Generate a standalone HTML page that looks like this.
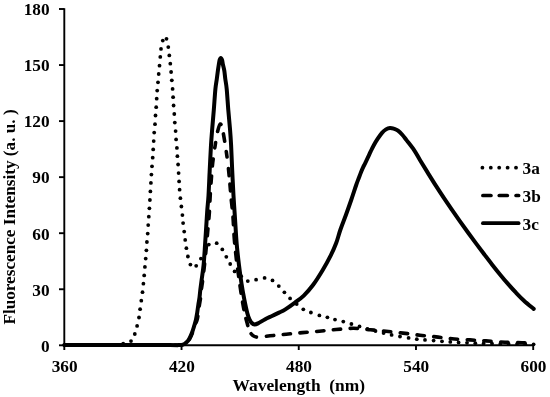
<!DOCTYPE html>
<html><head><meta charset="utf-8"><style>
html,body{margin:0;padding:0;background:#fff;}
body{width:550px;height:397px;overflow:hidden;}
svg{display:block;filter:grayscale(1);}
text{font-family:"Liberation Serif",serif;font-weight:bold;fill:#000;}
</style></head><body>
<svg width="550" height="397" viewBox="0 0 550 397">
<rect width="550" height="397" fill="#fff"/>
<g stroke="#000" stroke-width="1.9" fill="none" stroke-linecap="butt">
<line x1="64.3" y1="8.2" x2="64.3" y2="346.2"/>
<line x1="63.4" y1="345.3" x2="534.1" y2="345.3"/>
<line x1="59" y1="345.30" x2="64.3" y2="345.30"/><line x1="59" y1="289.25" x2="64.3" y2="289.25"/><line x1="59" y1="233.20" x2="64.3" y2="233.20"/><line x1="59" y1="177.15" x2="64.3" y2="177.15"/><line x1="59" y1="121.10" x2="64.3" y2="121.10"/><line x1="59" y1="65.05" x2="64.3" y2="65.05"/><line x1="59" y1="9.00" x2="64.3" y2="9.00"/>
<line x1="64.30" y1="345.3" x2="64.30" y2="350"/><line x1="181.53" y1="345.3" x2="181.53" y2="350"/><line x1="298.75" y1="345.3" x2="298.75" y2="350"/><line x1="415.98" y1="345.3" x2="415.98" y2="350"/><line x1="533.20" y1="345.3" x2="533.20" y2="350"/>
</g>
<g font-size="16" text-anchor="end"><text transform="translate(49.6,351.60) scale(1.08,1)">0</text><text transform="translate(49.6,295.55) scale(1.08,1)">30</text><text transform="translate(49.6,239.50) scale(1.08,1)">60</text><text transform="translate(49.6,183.45) scale(1.08,1)">90</text><text transform="translate(49.6,127.40) scale(1.08,1)">120</text><text transform="translate(49.6,71.35) scale(1.08,1)">150</text><text transform="translate(49.6,15.30) scale(1.08,1)">180</text></g>
<g font-size="16" text-anchor="middle"><text transform="translate(64.60,372.3) scale(1.08,1)">360</text><text transform="translate(181.83,372.3) scale(1.08,1)">420</text><text transform="translate(299.05,372.3) scale(1.08,1)">480</text><text transform="translate(416.28,372.3) scale(1.08,1)">540</text><text transform="translate(533.50,372.3) scale(1.08,1)">600</text></g>
<text transform="translate(298.8,391.2) scale(1.025,1)" font-size="17" text-anchor="middle" xml:space="preserve">Wavelength  (nm)</text>
<text transform="translate(15.4,217) rotate(-90) scale(1.06,1)" font-size="16.2" text-anchor="middle" xml:space="preserve">Fluorescence Intensity (a. u. )</text>
<path d="M64.30,345.10 C73.58,345.10 102.38,345.10 120.00,345.10 C137.62,345.10 160.17,345.10 170.00,345.10 C179.83,345.10 176.83,345.18 179.00,345.10 C181.17,345.02 181.78,345.05 183.00,344.60 C184.22,344.15 185.30,343.30 186.30,342.40 C187.30,341.50 188.08,340.72 189.00,339.20 C189.92,337.68 190.92,335.57 191.80,333.30 C192.68,331.03 193.60,327.90 194.30,325.60 C195.00,323.30 195.52,321.65 196.00,319.50 C196.48,317.35 196.82,315.12 197.20,312.70 C197.58,310.28 197.92,307.52 198.30,305.00 C198.68,302.48 199.17,300.10 199.50,297.60 C199.83,295.10 199.95,292.93 200.30,290.00 C200.65,287.07 201.05,284.17 201.60,280.00 C202.15,275.83 203.02,271.00 203.60,265.00 C204.18,259.00 204.67,250.33 205.10,244.00 C205.53,237.67 205.83,232.67 206.20,227.00 C206.57,221.33 206.92,215.23 207.30,210.00 C207.68,204.77 208.10,202.20 208.50,195.60 C208.90,189.00 209.28,178.80 209.70,170.40 C210.12,162.00 210.58,152.10 211.00,145.20 C211.42,138.30 211.73,134.87 212.20,129.00 C212.67,123.13 213.27,116.67 213.80,110.00 C214.33,103.33 214.90,94.17 215.40,89.00 C215.90,83.83 216.38,82.07 216.80,79.00 C217.22,75.93 217.57,73.02 217.90,70.60 C218.23,68.18 218.52,66.23 218.80,64.50 C219.08,62.77 219.27,61.28 219.60,60.20 C219.93,59.12 220.38,58.00 220.80,58.00 C221.22,58.00 221.75,59.12 222.10,60.20 C222.45,61.28 222.53,62.77 222.90,64.50 C223.27,66.23 223.90,68.18 224.30,70.60 C224.70,73.02 224.90,75.93 225.30,79.00 C225.70,82.07 226.20,83.83 226.70,89.00 C227.20,94.17 227.75,103.33 228.30,110.00 C228.85,116.67 229.53,123.13 230.00,129.00 C230.47,134.87 230.73,138.30 231.10,145.20 C231.47,152.10 231.80,162.00 232.20,170.40 C232.60,178.80 233.03,187.62 233.50,195.60 C233.97,203.58 234.47,210.23 235.00,218.30 C235.53,226.37 236.03,236.18 236.70,244.00 C237.37,251.82 238.20,258.62 239.00,265.20 C239.80,271.78 240.62,277.80 241.50,283.50 C242.38,289.20 243.32,294.40 244.30,299.40 C245.28,304.40 246.52,310.13 247.40,313.50 C248.28,316.87 248.87,318.02 249.60,319.60 C250.33,321.18 250.97,322.20 251.80,323.00 C252.63,323.80 253.57,324.33 254.60,324.40 C255.63,324.47 256.23,324.27 258.00,323.40 C259.77,322.53 262.87,320.43 265.20,319.20 C267.53,317.97 269.70,317.10 272.00,316.00 C274.30,314.90 276.83,313.67 279.00,312.60 C281.17,311.53 282.33,311.27 285.00,309.60 C287.67,307.93 291.87,304.93 295.00,302.60 C298.13,300.27 300.83,298.48 303.80,295.60 C306.77,292.72 309.67,289.53 312.80,285.30 C315.93,281.07 319.58,275.23 322.60,270.20 C325.62,265.17 328.63,259.63 330.90,255.10 C333.17,250.57 334.63,247.18 336.20,243.00 C337.77,238.82 338.68,234.67 340.30,230.00 C341.92,225.33 344.08,220.00 345.90,215.00 C347.72,210.00 349.48,205.00 351.20,200.00 C352.92,195.00 354.93,188.67 356.20,185.00 C357.47,181.33 357.98,180.17 358.80,178.00 C359.62,175.83 360.37,173.80 361.10,172.00 C361.83,170.20 362.55,168.60 363.20,167.20 C363.85,165.80 364.23,165.18 365.00,163.60 C365.77,162.02 366.85,159.73 367.80,157.70 C368.75,155.67 369.70,153.48 370.70,151.40 C371.70,149.32 372.65,147.28 373.80,145.20 C374.95,143.12 376.23,140.97 377.60,138.90 C378.97,136.83 380.60,134.38 382.00,132.80 C383.40,131.22 384.67,130.20 386.00,129.40 C387.33,128.60 388.67,128.10 390.00,128.00 C391.33,127.90 392.67,128.37 394.00,128.80 C395.33,129.23 396.58,129.57 398.00,130.60 C399.42,131.63 401.08,133.42 402.50,135.00 C403.92,136.58 404.57,137.58 406.50,140.10 C408.43,142.62 411.83,146.75 414.10,150.10 C416.37,153.45 417.78,156.37 420.10,160.20 C422.42,164.03 425.35,168.82 428.00,173.10 C430.65,177.38 433.33,181.73 436.00,185.90 C438.67,190.07 441.33,194.12 444.00,198.10 C446.67,202.08 449.33,205.93 452.00,209.80 C454.67,213.67 457.33,217.52 460.00,221.30 C462.67,225.08 465.33,228.82 468.00,232.50 C470.67,236.18 473.33,239.82 476.00,243.40 C478.67,246.98 481.33,250.50 484.00,254.00 C486.67,257.50 489.33,261.00 492.00,264.40 C494.67,267.80 497.33,271.15 500.00,274.40 C502.67,277.65 505.33,280.85 508.00,283.90 C510.67,286.95 513.33,289.90 516.00,292.70 C518.67,295.50 521.05,298.00 524.00,300.70 C526.95,303.40 532.08,307.53 533.70,308.90" stroke="#000" stroke-width="4" fill="none" stroke-linejoin="round" stroke-linecap="round"/>
<path id="b3" d="M64.30,345.10 C73.58,345.10 101.55,345.10 120.00,345.10 C138.45,345.10 164.92,345.12 175.00,345.10 C185.08,345.08 179.03,345.12 180.50,345.00 C181.97,344.88 182.75,344.85 183.80,344.40 C184.85,343.95 185.83,343.20 186.80,342.30 C187.77,341.40 188.70,340.50 189.60,339.00 C190.50,337.50 191.35,335.50 192.20,333.30 C193.05,331.10 193.87,328.10 194.70,325.80 C195.53,323.50 196.60,321.68 197.20,319.50 C197.80,317.32 197.93,315.12 198.30,312.70 C198.67,310.28 199.02,307.52 199.40,305.00 C199.78,302.48 200.28,300.10 200.60,297.60 C200.92,295.10 200.95,292.93 201.30,290.00 C201.65,287.07 202.15,284.33 202.70,280.00 C203.25,275.67 203.97,269.83 204.60,264.00 C205.23,258.17 205.93,251.00 206.50,245.00 C207.07,239.00 207.53,233.28 208.00,228.00 C208.47,222.72 208.93,218.70 209.30,213.30 C209.67,207.90 209.85,201.48 210.20,195.60 C210.55,189.72 210.98,183.45 211.40,178.00 C211.82,172.55 212.07,168.37 212.70,162.90 C213.33,157.43 214.40,150.35 215.20,145.20 C216.00,140.05 216.65,135.53 217.50,132.00 C218.35,128.47 219.45,124.33 220.30,124.00 C221.15,123.67 221.77,126.47 222.60,130.00 C223.43,133.53 224.43,139.72 225.30,145.20 C226.17,150.68 227.08,157.02 227.80,162.90 C228.52,168.78 229.05,174.63 229.60,180.50 C230.15,186.37 230.55,192.22 231.10,198.10 C231.65,203.98 232.35,208.82 232.90,215.80 C233.45,222.78 233.77,232.30 234.40,240.00 C235.03,247.70 235.90,255.33 236.70,262.00 C237.50,268.67 238.35,274.07 239.20,280.00 C240.05,285.93 240.90,292.10 241.80,297.60 C242.70,303.10 243.73,308.85 244.60,313.00 C245.47,317.15 246.18,319.50 247.00,322.50 C247.82,325.50 248.50,328.82 249.50,331.00 C250.50,333.18 251.67,334.57 253.00,335.60 C254.33,336.63 255.83,337.03 257.50,337.20 C259.17,337.37 260.92,336.83 263.00,336.60 C265.08,336.37 266.13,336.20 270.00,335.80 C273.87,335.40 280.80,334.73 286.20,334.20 C291.60,333.67 296.88,333.10 302.40,332.60 C307.92,332.10 313.68,331.72 319.30,331.20 C324.92,330.68 330.38,329.98 336.10,329.50 C341.82,329.02 347.87,328.25 353.60,328.30 C359.33,328.35 365.10,329.30 370.50,329.80 C375.90,330.30 380.58,330.75 386.00,331.30 C391.42,331.85 397.33,332.45 403.00,333.10 C408.67,333.75 414.50,334.57 420.00,335.20 C425.50,335.83 430.67,336.30 436.00,336.90 C441.33,337.50 446.33,338.30 452.00,338.80 C457.67,339.30 464.33,339.55 470.00,339.90 C475.67,340.25 480.17,340.52 486.00,340.90 C491.83,341.28 499.00,341.88 505.00,342.20 C511.00,342.52 517.37,342.65 522.00,342.80 C526.63,342.95 531.00,343.05 532.80,343.10" stroke="#000" stroke-width="3.6" fill="none" stroke-linejoin="round" stroke-linecap="round" stroke-dasharray="0.01 4.84 7.40 10.20 7.40 10.20 7.40 10.20 7.40 10.20 7.40 10.20 7.40 10.20 7.40 10.20 7.40 10.20 7.40 10.20 7.40 10.20 7.40 10.20 7.40 10.20 7.40 10.20 7.40 10.20 7.40 10.20 7.40 10.20 7.40 10.20 7.15 10.85 5.40 11.35 8.90 9.85 7.40 10.60 5.40 11.60 7.15 8.40 6.80 9.20 8.05 9.20 7.80 9.20 9.05 9.20 7.55 9.20 7.55 9.20 7.55 9.20 7.55 9.20 7.30 8.90 6.40 10.07 7.30 9.50 7.30 9.50 7.30 9.50 7.30 9.50 7.30 9.50 7.30 9.50 7.30 9.50 7.30 9.50 7.30 9.50 7.30 9.50 7.30 9.50 7.30 9.50 7.30 9.50 7.30 9.50 7.30 9.50 7.30 2000.00"/>
<g fill="#000"><circle cx="123.2" cy="343.6" r="1.90"/><circle cx="131.0" cy="341.1" r="1.90"/><circle cx="134.8" cy="334.0" r="1.90"/><circle cx="137.1" cy="325.9" r="1.90"/><circle cx="139.0" cy="317.5" r="1.90"/><circle cx="140.1" cy="309.2" r="1.90"/><circle cx="141.3" cy="300.7" r="1.90"/><circle cx="142.5" cy="292.2" r="1.90"/><circle cx="143.4" cy="283.7" r="1.90"/><circle cx="144.2" cy="275.4" r="1.90"/><circle cx="144.9" cy="266.9" r="1.90"/><circle cx="145.7" cy="258.6" r="1.90"/><circle cx="146.4" cy="250.3" r="1.90"/><circle cx="146.9" cy="242.0" r="1.90"/><circle cx="147.7" cy="233.6" r="1.90"/><circle cx="148.2" cy="225.1" r="1.90"/><circle cx="148.8" cy="216.7" r="1.90"/><circle cx="149.4" cy="208.3" r="1.90"/><circle cx="149.9" cy="200.0" r="1.90"/><circle cx="150.4" cy="191.4" r="1.90"/><circle cx="150.9" cy="182.9" r="1.90"/><circle cx="151.4" cy="174.6" r="1.90"/><circle cx="152.0" cy="166.3" r="1.90"/><circle cx="152.7" cy="157.7" r="1.90"/><circle cx="153.2" cy="149.4" r="1.90"/><circle cx="153.7" cy="141.1" r="1.90"/><circle cx="154.2" cy="132.6" r="1.90"/><circle cx="155.0" cy="124.2" r="1.90"/><circle cx="155.5" cy="115.5" r="1.90"/><circle cx="156.2" cy="107.2" r="1.90"/><circle cx="156.7" cy="98.7" r="1.90"/><circle cx="157.2" cy="90.6" r="1.90"/><circle cx="158.0" cy="82.3" r="1.90"/><circle cx="158.7" cy="74.0" r="1.90"/><circle cx="159.5" cy="65.7" r="1.90"/><circle cx="160.3" cy="56.9" r="1.90"/><circle cx="161.0" cy="48.9" r="1.90"/><circle cx="162.8" cy="40.6" r="1.90"/><circle cx="166.5" cy="38.8" r="1.90"/><circle cx="168.3" cy="47.1" r="1.90"/><circle cx="169.3" cy="55.4" r="1.90"/><circle cx="170.3" cy="63.7" r="1.90"/><circle cx="171.1" cy="72.0" r="1.90"/><circle cx="171.8" cy="80.3" r="1.90"/><circle cx="172.6" cy="88.9" r="1.90"/><circle cx="173.1" cy="97.2" r="1.90"/><circle cx="173.6" cy="105.5" r="1.90"/><circle cx="174.3" cy="114.0" r="1.90"/><circle cx="174.8" cy="122.6" r="1.90"/><circle cx="175.6" cy="131.1" r="1.90"/><circle cx="176.1" cy="139.4" r="1.90"/><circle cx="176.9" cy="147.9" r="1.90"/><circle cx="177.4" cy="156.2" r="1.90"/><circle cx="178.1" cy="164.5" r="1.90"/><circle cx="178.6" cy="173.1" r="1.90"/><circle cx="179.1" cy="181.4" r="1.90"/><circle cx="179.6" cy="189.7" r="1.90"/><circle cx="180.4" cy="198.2" r="1.90"/><circle cx="181.4" cy="206.5" r="1.90"/><circle cx="182.4" cy="215.1" r="1.90"/><circle cx="183.1" cy="223.1" r="1.90"/><circle cx="184.2" cy="231.6" r="1.90"/><circle cx="185.2" cy="239.9" r="1.90"/><circle cx="186.4" cy="248.2" r="1.90"/><circle cx="187.9" cy="256.5" r="1.90"/><circle cx="190.4" cy="264.6" r="1.90"/><circle cx="196.2" cy="265.8" r="1.90"/><circle cx="200.9" cy="258.6" r="1.90"/><circle cx="205.0" cy="251.4" r="1.90"/><circle cx="208.8" cy="244.6" r="1.90"/><circle cx="216.7" cy="243.2" r="1.90"/><circle cx="222.3" cy="249.4" r="1.90"/><circle cx="226.3" cy="256.8" r="1.90"/><circle cx="230.2" cy="264.0" r="1.90"/><circle cx="234.6" cy="271.4" r="1.90"/><circle cx="241.2" cy="276.2" r="1.90"/><circle cx="247.8" cy="281.1" r="1.90"/><circle cx="256.1" cy="279.7" r="1.90"/><circle cx="264.6" cy="277.9" r="1.90"/><circle cx="272.5" cy="280.4" r="1.90"/><circle cx="278.8" cy="286.1" r="1.90"/><circle cx="284.4" cy="292.3" r="1.90"/><circle cx="290.1" cy="298.4" r="1.90"/><circle cx="296.7" cy="304.0" r="1.90"/><circle cx="303.3" cy="309.3" r="1.90"/><circle cx="310.9" cy="312.5" r="1.90"/><circle cx="319.4" cy="315.4" r="1.90"/><circle cx="327.4" cy="317.3" r="1.90"/><circle cx="335.0" cy="319.6" r="1.90"/><circle cx="343.3" cy="321.6" r="1.90"/><circle cx="351.4" cy="324.0" r="1.90"/><circle cx="359.5" cy="326.4" r="1.90"/><circle cx="367.5" cy="328.8" r="1.90"/><circle cx="375.5" cy="331.0" r="1.90"/><circle cx="383.6" cy="333.0" r="1.90"/><circle cx="391.6" cy="334.9" r="1.90"/><circle cx="400.0" cy="336.5" r="1.90"/><circle cx="408.6" cy="337.9" r="1.90"/><circle cx="416.8" cy="339.2" r="1.90"/><circle cx="425.0" cy="339.9" r="1.90"/><circle cx="433.6" cy="340.6" r="1.90"/><circle cx="442.0" cy="341.3" r="1.90"/><circle cx="450.3" cy="341.9" r="1.90"/><circle cx="458.6" cy="342.4" r="1.90"/><circle cx="467.0" cy="342.8" r="1.90"/><circle cx="475.3" cy="343.2" r="1.90"/><circle cx="483.6" cy="343.5" r="1.90"/><circle cx="492.0" cy="343.7" r="1.90"/><circle cx="500.3" cy="343.9" r="1.90"/><circle cx="508.6" cy="344.0" r="1.90"/><circle cx="517.0" cy="344.1" r="1.90"/><circle cx="525.3" cy="344.2" r="1.90"/><circle cx="533.6" cy="344.3" r="1.90"/></g>
<g fill="#000"><circle cx="482.4" cy="167.7" r="1.90"/><circle cx="490.8" cy="167.7" r="1.90"/><circle cx="499.2" cy="167.7" r="1.90"/><circle cx="507.6" cy="167.7" r="1.90"/><circle cx="516.0" cy="167.7" r="1.90"/></g>
<g stroke="#000" stroke-width="3.7" stroke-linecap="round">
<line x1="482.9" y1="195.5" x2="490.9" y2="195.5"/>
<line x1="499.3" y1="195.5" x2="507.3" y2="195.5"/>
<line x1="516.1" y1="195.5" x2="518.6" y2="195.5"/>
<line x1="482.9" y1="223.2" x2="518.6" y2="223.2"/>
</g>
<g font-size="16">
<text transform="translate(522.5,173.6) scale(1.08,1)">3a</text>
<text transform="translate(522.5,201.6) scale(1.08,1)">3b</text>
<text transform="translate(522.5,229.6) scale(1.08,1)">3c</text>
</g>
</svg>
</body></html>
